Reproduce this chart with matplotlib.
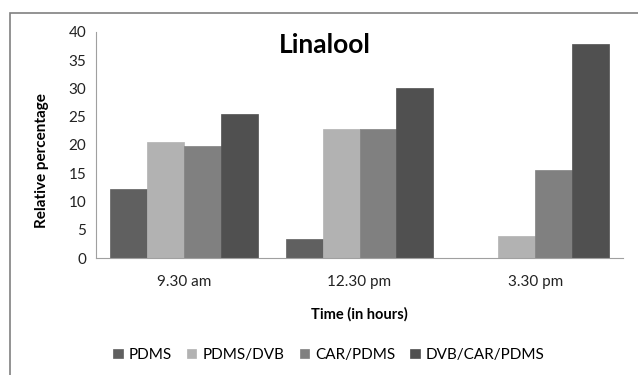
import numpy as np
import matplotlib
matplotlib.use("Agg")
import matplotlib.pyplot as plt
from matplotlib.patches import Rectangle

plt.rcParams['font.family'] = ['Lato', 'DejaVu Sans']

times = ['9.30 am', '12.30 pm', '3.30 pm']
fibres = ['PDMS', 'PDMS/DVB', 'CAR/PDMS', 'DVB/CAR/PDMS']
pdms = [12.3, 3.4, 0.0]
pdms_dvb = [20.6, 22.9, 3.9]
car_pdms = [19.9, 22.9, 15.5]
dvb_car_pdms = [25.5, 30.1, 37.9]

colors = ['#606060', '#b2b2b2', '#808080', '#505050']
grey = '#a0a0a0'

fig = plt.figure(figsize=(6.38, 3.75), dpi=100)
fig.patches.append(Rectangle((10 / 638, -0.1), 1.2, 1 - 13 / 375 + 0.1,
                             transform=fig.transFigure, fill=False,
                             edgecolor='#808080', linewidth=1.2))

ax = fig.add_axes([0.1505, 0.3112, 0.826, 0.6043])

x = np.arange(len(times))
width = 0.21
series = [pdms, pdms_dvb, car_pdms, dvb_car_pdms]
for i, (vals, lab) in enumerate(zip(series, fibres)):
    ax.bar(x + (i - 1.5) * width, vals, width, color=colors[i], label=lab,
           edgecolor=colors[i], linewidth=0.5)

ax.set_xlim(-0.5, 2.5)
ax.set_ylim(0, 40)
ax.set_yticks(range(0, 41, 5))
ax.set_xticks(x, times)
ax.tick_params(length=0, labelsize=11, colors='#222222', pad=7)
ax.tick_params(axis='x', pad=12)
ax.spines[['top', 'right']].set_visible(False)
ax.spines['left'].set_color(grey)
ax.spines['bottom'].set_color(grey)

ax.set_ylabel('Relative percentage', fontweight='bold', fontsize=11)
ax.yaxis.set_label_coords(-0.09, 0.43)
ax.set_xlabel('Time (in hours)', fontweight='bold', fontsize=10.5, labelpad=13)
ax.text(0.435, 0.94, 'Linalool', transform=ax.transAxes, ha='center', va='center',
        fontsize=19, fontweight='bold')

ax.legend(loc='center', bbox_to_anchor=(329 / 638, 1 - 355 / 375),
          bbox_transform=fig.transFigure, ncols=4, frameon=False,
          fontsize=11, handlelength=0.6, handleheight=0.6,
          columnspacing=1.0, handletextpad=0.4)

fig.savefig('out.png', dpi=100)
